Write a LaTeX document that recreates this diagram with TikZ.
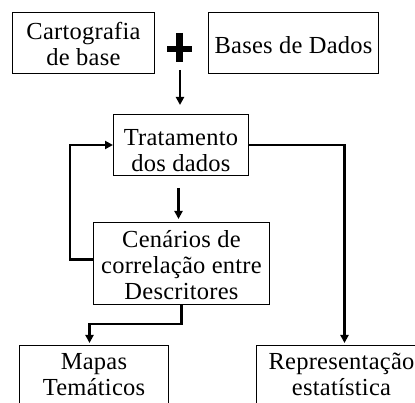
\documentclass[tikz,border=0pt]{standalone}
\usepackage{fontspec}
\setmainfont{Liberation Serif}[LetterSpace=1]
\usetikzlibrary{arrows.meta}
\newcommand{\tbtop}[1]{\rule{0pt}{#1pt}}
\newcommand{\tbbot}[1]{\rule[-#1pt]{0pt}{#1pt}}
\begin{document}
\begin{tikzpicture}[x=1pt,y=-1pt,
  box/.style={draw,line width=1pt,anchor=north west,align=center,inner sep=0pt,
    font=\fontsize{24.5}{26}\selectfont},
  conn/.style={line width=2.6pt,-{Triangle[length=8pt,width=8pt]}},
  plusbar/.style={line width=6.5pt}]
\useasboundingbox (0,0) rectangle (415,403);
\node[box,minimum width=142pt,minimum height=61pt] (carto) at (12,12) {\tbtop{19}Cartografia\\de base};
\node[box,minimum width=170pt,minimum height=61pt] (bases) at (208,12) {\tbtop{21}Bases de Dados};
\coordinate (plus) at (179.5,48.5);
\draw[plusbar] (167,49) -- (192,49);
\draw[plusbar] (179.5,33) -- (179.5,62);
\node[box,minimum width=135pt,minimum height=61pt] (trat) at (113,114) {\tbtop{27}Tratamento\\dos dados};
\node[box,minimum width=176pt,minimum height=82pt] (cen) at (93,222) {\tbtop{20}Cenários de\\correlação entre\\Descritores};
\node[box,minimum width=149pt,minimum height=80pt] (mapas) at (19,345) {\tbtop{18}Mapas\\Temáticos\tbbot{24}};
\node[box,minimum width=170pt,minimum height=80pt] (rep) at (256,345) {\tbtop{18}Representação\\estatística\tbbot{24}};
\coordinate (a1s) at (180,70);
\coordinate (a1e) at (180,105);
\draw[conn] (a1s) -- (a1e);
\coordinate (a2s) at (178.5,188);
\coordinate (a2e) at (178.5,219);
\draw[conn] (a2s) -- (a2e);
\draw[conn] ([yshift=4pt]cen.west) -- ++(-23,0) |- (trat.west);
\draw[conn,shorten >=2pt] (trat.east) -| ([xshift=3pt]rep.north);
\draw[conn,shorten >=2pt] (cen.south) -- ++(0,19) -| ([xshift=-4.5pt]mapas.north);
\end{tikzpicture}
\end{document}
